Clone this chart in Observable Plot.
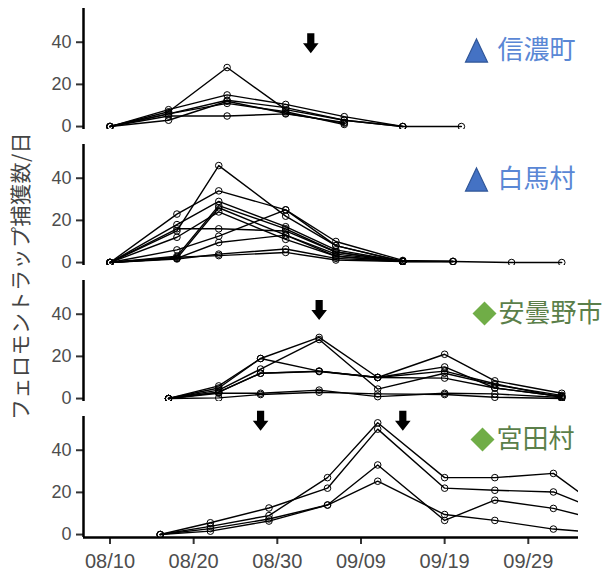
<!DOCTYPE html>
<html><head><meta charset="utf-8">
<script src="https://cdn.jsdelivr.net/npm/d3@7"></script>
<script src="https://cdn.jsdelivr.net/npm/@observablehq/plot@0.6"></script>
<style>
body{margin:0;background:#fff;}
#chart{width:603px;height:573px;}
</style></head><body><div id="chart"></div>
<script>
// ---- data ----
const year = "2021";
const places = ["信濃町", "白馬村", "安曇野市", "宮田村"];

const shinanoDates = ["08/10","08/17","08/24","08/31","09/07","09/14","09/21"];
const shinanoSeries = [
  [0, 7, 28, 8, 3, 0, 0],
  [0, 8, 15, 10.5, 4.7, 0, null],
  [0, 6, 12.5, 9, 3, 0, null],
  [0, 3, 12, 6.3, 1.6, null, null],
  [0, 6, 11, 7, 1, null, null],
  [0, 5, 5, 6, 2, null, null]
];

const hakubaDates = ["08/10","08/18","08/23","08/31","09/06","09/14","09/20","09/27","10/03"];
const hakubaSeries = [
  [0, 15, 46, 22, 8, 0.5, 0.5, 0, 0],
  [0, 23, 34, 25, 10, 1, 0.5, null, null],
  [0, 18, 29, 17, 6, 0.5, 0.5, null, null],
  [0, 3, 27, 16, 5, 0.5, 0.5, null, null],
  [0, 2, 26, 13, 4, 0.5, null, null, null],
  [0, 12, 24, 11, 3, 0.5, null, null, null],
  [0, 16, 16, 15, 5, 0.5, null, null, null],
  [0, 6, 12.5, 25, 8, 0.5, null, null, null],
  [0, 2, 9.5, 13, 3, 0.5, null, null, null],
  [0, 1.7, 4, 6.4, 2, 0.5, null, null, null],
  [0, 2.5, 3.3, 4.8, 1.2, 0.5, null, null, null]
];

const azuminoDates = ["08/17","08/23","08/28","09/04","09/11","09/19","09/25","10/03"];
const azuminoSeries = [
  [0, 5, 19, 29, 10, 21, 8.4, 2.5],
  [0, 4, 14, 28, 4.5, 12, 6.5, 1.5],
  [0, 6, 19, 13, 10, 15, 5, 1],
  [0, 3, 12, 13, 10, 13, 7, 0.5],
  [0, 3, 12, 12.8, 10, 9.7, 5, 1],
  [0, 2.5, 2.5, 4, 0.9, 2.5, 2.2, 0.5],
  [0, 0.3, 1.9, 3, 2.2, 1.9, 0.6, 0]
];

const miyadaDates = ["08/16","08/22","08/29","09/05","09/11","09/19","09/25","10/02","10/09"];
const miyadaSeries = [
  [0, 3.9, 9, 27, 53, 27, 27, 29, 8.7],
  [0, 5.6, 12.6, 22, 50, 22, 21, 20.2, 9.2],
  [0, 2.8, 7.4, 14, 33, 6.7, 16.3, 12.4, 5.6],
  [0, 1.6, 6.4, 14, 25.3, 9.5, 6.7, 2.6, 0.5]
];

// spray timing arrows
const arrowPlaces = ["信濃町", "安曇野市", "宮田村", "宮田村"];
const arrowDates = ["09/03", "09/04", "08/28", "09/14"];
const arrowLevels = [39.5, 42, 54, 54];

const xTickLabels = ["08/10","08/20","08/30","09/09","09/19","09/29"];
const yTicks = [0, 20, 40];
const yLabel = "フェロモントラップ捕獲数/日";

// ---- build tables ----
const parse = s => d3.utcParse("%Y/%m/%d")(year + "/" + s);
const rows = [];
function addSeries(place, dates, series) {
  series.forEach((vals, i) => vals.forEach((v, j) => {
    if (v != null) rows.push({place, trap: place + "-" + i, date: parse(dates[j]), value: v});
  }));
}
addSeries(places[0], shinanoDates, shinanoSeries);
addSeries(places[1], hakubaDates, hakubaSeries);
addSeries(places[2], azuminoDates, azuminoSeries);
addSeries(places[3], miyadaDates, miyadaSeries);

const arrows = arrowPlaces.map((p, i) => ({place: p, date: parse(arrowDates[i]), value: arrowLevels[i]}));

const xDomain = [new Date(Date.UTC(2021, 7, 6, 20)), new Date(Date.UTC(2021, 9, 5, 0))];
const yDomain = [-1.4, 56];

// ---- symbols ----
const arrowSymbol = {draw(ctx, size) {
  const R = Math.sqrt(size / Math.PI);
  ctx.moveTo(-0.36 * R, -R); ctx.lineTo(0.36 * R, -R); ctx.lineTo(0.36 * R, 0);
  ctx.lineTo(0.78 * R, 0); ctx.lineTo(0, R); ctx.lineTo(-0.78 * R, 0);
  ctx.lineTo(-0.36 * R, 0); ctx.closePath();
}};
const triSymbol = {draw(ctx, size) {
  const R = Math.sqrt(size / Math.PI);
  ctx.moveTo(0, -1.05 * R); ctx.lineTo(R, 1.05 * R); ctx.lineTo(-R, 1.05 * R); ctx.closePath();
}};
const diaSymbol = {draw(ctx, size) {
  const R = Math.sqrt(size / Math.PI);
  ctx.moveTo(0, -R); ctx.lineTo(R, 0); ctx.lineTo(0, R); ctx.lineTo(-R, 0); ctx.closePath();
}};

const labelStyle = [
  {place: places[0], sym: triSymbol, r: 11, symFill: "#4472C4", symStroke: "#2F5597", color: "#5A87D5", dy: 42, symDx: -102, textDx: -81},
  {place: places[1], sym: triSymbol, r: 11, symFill: "#4472C4", symStroke: "#2F5597", color: "#5A87D5", dy: 35, symDx: -102, textDx: -81},
  {place: places[2], sym: diaSymbol, r: 12, symFill: "#70AD47", symStroke: "none", color: "#5B7F4A", dy: 33, symDx: -94, textDx: -80},
  {place: places[3], sym: diaSymbol, r: 12, symFill: "#70AD47", symStroke: "none", color: "#5B7F4A", dy: 23, symDx: -96, textDx: -82}
];

const labelMarks = labelStyle.flatMap(L => [
  Plot.dot([L], {fy: "place", frameAnchor: "top-right", dx: L.symDx, dy: L.dy, symbol: L.sym, r: L.r, fill: L.symFill, stroke: L.symStroke, strokeWidth: 1.2}),
  Plot.text([L], {fy: "place", text: "place", frameAnchor: "top-right", dx: L.textDx, dy: L.dy, textAnchor: "start", lineAnchor: "middle", fontSize: 26, fontFamily: "'Noto Sans CJK JP', sans-serif", fill: L.color})
]);

const plot = Plot.plot({
  width: 603, height: 573,
  marginTop: 6, marginBottom: 34, marginLeft: 83, marginRight: 25,
  style: {fontFamily: "'Liberation Sans', Arial, sans-serif", background: "white", overflow: "visible"},
  x: {type: "utc", domain: xDomain},
  y: {domain: yDomain},
  fy: {domain: places, axis: null, paddingInner: 0.109, paddingOuter: 0},
  marks: [
    Plot.axisY({ticks: yTicks, tickSize: 7, tickPadding: 5, fontSize: 18, fill: "#4d4d4d", stroke: "#333", strokeWidth: 2, label: null}),
    Plot.axisX({ticks: xTickLabels.map(parse), tickFormat: d3.utcFormat("%m/%d"), tickSize: 7, tickPadding: 9, fontSize: 20, fill: "#4d4d4d", stroke: "#333", strokeWidth: 2, label: null}),
    Plot.ruleX([xDomain[0]], {stroke: "black", strokeWidth: 2.5}),
    Plot.ruleY([{place: places[3], y: yDomain[0]}], {y: "y", fy: "place", stroke: "black", strokeWidth: 2.5}),
    Plot.line(rows, {x: "date", y: "value", z: "trap", fy: "place", stroke: "black", strokeWidth: 1.4, clip: true}),
    Plot.dot(rows, {x: "date", y: "value", fy: "place", r: 3.3, stroke: "black", strokeWidth: 1, fill: "none", clip: true}),
    Plot.dot(arrows, {x: "date", y: "value", fy: "place", symbol: arrowSymbol, r: 10, fill: "black", stroke: "none"}),
    ...labelMarks
  ]
});

d3.select(plot).append("text")
  .attr("transform", "translate(19,276) rotate(-90)")
  .attr("text-anchor", "middle")
  .attr("dominant-baseline", "central")
  .attr("font-family", "'Noto Sans CJK JP', sans-serif")
  .attr("font-size", 21)
  .attr("letter-spacing", 0.5)
  .attr("fill", "#444")
  .text(yLabel);

document.getElementById("chart").appendChild(plot);
</script>
</body></html>
